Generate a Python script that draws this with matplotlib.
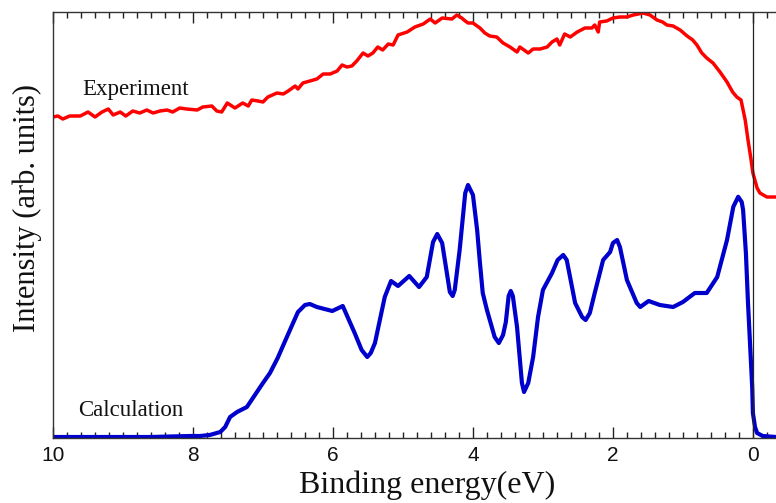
import matplotlib
matplotlib.use("Agg")
import matplotlib.pyplot as plt
from matplotlib.ticker import MultipleLocator

# Experimental spectrum (binding energy in eV, intensity in arb. units)
exp_energy = [10.00, 9.93, 9.86, 9.76, 9.61, 9.50, 9.40, 9.30, 9.21, 9.14, 9.04, 8.96,
              8.86, 8.76, 8.66, 8.57, 8.47, 8.37, 8.29, 8.19, 8.09, 7.94, 7.86, 7.73,
              7.66, 7.59, 7.51, 7.40, 7.29, 7.21, 7.16, 7.07, 7.00, 6.93, 6.80, 6.71,
              6.64, 6.54, 6.50, 6.43, 6.33, 6.23, 6.14, 6.04, 5.94, 5.87, 5.80, 5.73,
              5.66, 5.57, 5.50, 5.43, 5.36, 5.29, 5.21, 5.14, 5.07, 4.94, 4.83, 4.71,
              4.61, 4.54, 4.44, 4.30, 4.23, 4.16, 4.11, 4.07, 4.00, 3.90, 3.83, 3.76,
              3.66, 3.57, 3.47, 3.37, 3.33, 3.21, 3.14, 3.04, 2.94, 2.87, 2.80, 2.76,
              2.69, 2.61, 2.51, 2.40, 2.30, 2.26, 2.21, 2.19, 2.09, 2.00, 1.90, 1.80,
              1.71, 1.57, 1.47, 1.37, 1.29, 1.23, 1.14, 1.04, 0.94, 0.86, 0.80, 0.73,
              0.66, 0.57, 0.47, 0.37, 0.29, 0.23, 0.17, 0.11, 0.07, 0.03, 0.00, -0.06,
              -0.10, -0.20, -0.33]
exp_intensity = [80.25, 80.5, 79.75, 80.5, 80.5, 81.5, 80.25, 81.5, 82.25, 80.75, 81.5, 80.5,
                 81.75, 81.25, 82.0, 81.25, 81.75, 82.0, 81.5, 82.5, 82.25, 82.0, 82.75, 83.0,
                 81.75, 81.5, 83.75, 82.5, 83.75, 83.0, 84.5, 84.25, 84.0, 85.25, 86.25, 86.0,
                 86.75, 88.0, 87.25, 88.75, 89.25, 89.75, 91.0, 91.0, 91.75, 93.25, 92.75, 93.0,
                 94.25, 96.25, 95.5, 96.25, 97.75, 97.0, 98.5, 98.25, 100.75, 101.5, 102.75, 103.5,
                 104.75, 103.75, 105.0, 104.75, 105.75, 105.0, 104.25, 103.75, 103.75, 102.5, 101.25, 100.5,
                 100.25, 98.75, 97.75, 96.5, 97.75, 96.25, 97.25, 97.25, 97.75, 99.0, 99.75, 98.25,
                 101.0, 100.25, 101.5, 102.5, 102.5, 103.25, 101.5, 104.0, 104.25, 105.0, 105.25, 105.25,
                 105.75, 106.25, 105.75, 104.5, 104.0, 103.25, 103.0, 102.0, 100.5, 99.5, 98.25, 96.25,
                 95.0, 93.75, 91.5, 89.0, 86.5, 85.25, 84.5, 79.5, 74.5, 70.0, 66.25, 62.5,
                 61.25, 60.25, 60.25]

# Calculated spectrum
calc_energy = [10.00, 8.61, 8.04, 7.90, 7.76, 7.61, 7.54, 7.47, 7.37, 7.23,
               7.00, 6.90, 6.79, 6.69, 6.57, 6.50, 6.40, 6.33, 6.23, 6.01,
               5.86, 5.69, 5.59, 5.51, 5.46, 5.40, 5.33, 5.26, 5.17, 5.07,
               4.91, 4.77, 4.66, 4.57, 4.51, 4.44, 4.33, 4.29, 4.26, 4.19,
               4.11, 4.07, 4.00, 3.94, 3.90, 3.86, 3.80, 3.69, 3.63, 3.57,
               3.53, 3.49, 3.46, 3.43, 3.37, 3.30, 3.27, 3.21, 3.14, 3.07,
               3.00, 2.87, 2.79, 2.71, 2.66, 2.54, 2.44, 2.39, 2.33, 2.26,
               2.14, 2.04, 2.00, 1.94, 1.90, 1.80, 1.66, 1.61, 1.57, 1.49,
               1.33, 1.14, 1.00, 0.83, 0.66, 0.51, 0.37, 0.28, 0.21, 0.16,
               0.14, 0.10, 0.07, 0.01, 0.00, -0.03, -0.06, -0.14, -0.33]
calc_intensity = [0.25, 0.25, 0.5, 0.5, 0.75, 1.5, 2.75, 5.25, 6.5, 7.75,
                  13.75, 16.25, 20.0, 24.0, 28.75, 31.5, 33.25, 33.5, 32.75, 31.75,
                  33.0, 26.25, 22.0, 20.25, 21.25, 23.75, 29.5, 35.25, 39.25, 38.0,
                  40.5, 37.75, 40.25, 49.0, 51.0, 48.75, 36.5, 35.5, 37.0, 47.0,
                  61.25, 63.25, 60.75, 52.0, 43.75, 36.25, 32.0, 25.25, 23.75, 25.75,
                  29.0, 35.5, 36.75, 35.5, 27.75, 13.75, 11.5, 13.75, 20.25, 30.25,
                  37.0, 41.25, 44.5, 45.75, 44.5, 33.75, 30.25, 29.5, 31.25, 36.25,
                  44.5, 46.5, 48.75, 49.5, 47.75, 39.5, 33.75, 32.75, 33.25, 34.25,
                  33.25, 32.75, 34.0, 36.25, 36.25, 40.25, 49.5, 57.8, 60.3, 59.0,
                  57.0, 46.25, 33.75, 12.75, 6.25, 2.75, 1.25, 0.5, 0.25]

x_ticks = [10, 8, 6, 4, 2, 0]
x_tick_labels = ["10", "8", "6", "4", "2", "0"]

W, H = 776, 503
fig = plt.figure(figsize=(W / 100, H / 100), dpi=100)
ax = fig.add_axes([53 / W, 1 - 438 / H, (W - 53) / W, 426 / H])

ax.plot(exp_energy, exp_intensity, color="#ff0000", lw=2.5,
        solid_joinstyle="round", solid_capstyle="round")
ax.plot(calc_energy, calc_intensity, color="#0000cd", lw=3.0,
        solid_joinstyle="round", solid_capstyle="round")
ax.axvline(0, color="#222222", lw=0.9)

ax.set_xlim(10, -0.33)
ax.set_ylim(0, 106.5)

ax.xaxis.set_minor_locator(MultipleLocator(0.2))
ax.set_xticks(x_ticks)
ax.set_xticklabels(x_tick_labels, fontsize=15, family=["Liberation Sans", "DejaVu Sans"])
ax.tick_params(axis="x", which="major", direction="in", length=8, width=1, top=True, pad=6, colors="#222222")
ax.tick_params(axis="x", which="minor", direction="in", length=4.3, width=1, top=True, colors="#222222")
ax.tick_params(axis="x", labelcolor="#111111")
ax.set_yticks([])

ax.spines["right"].set_visible(False)
for s in ["left", "top", "bottom"]:
    ax.spines[s].set_color("#333333")
    ax.spines[s].set_linewidth(1.0)

serif = ["Liberation Serif", "DejaVu Serif"]
ax.text(9.586, 85.75, "Experiment", fontsize=16.5, family=serif, ha="left", va="baseline", color="#111111")
ax.text(9.643, 5.5, "Calculation", fontsize=16.5, family=serif, ha="left", va="baseline", color="#111111")

fig.text(427 / W, 1 - 493 / H, "Binding energy(eV)", fontsize=23, family=serif,
         ha="center", va="baseline", color="#111111")
fig.text(27 / W, 1 - 208 / H, "Intensity (arb. units)", fontsize=22, family=serif,
         ha="center", va="center", rotation=90, color="#111111")

fig.savefig("out.png", dpi=100)
